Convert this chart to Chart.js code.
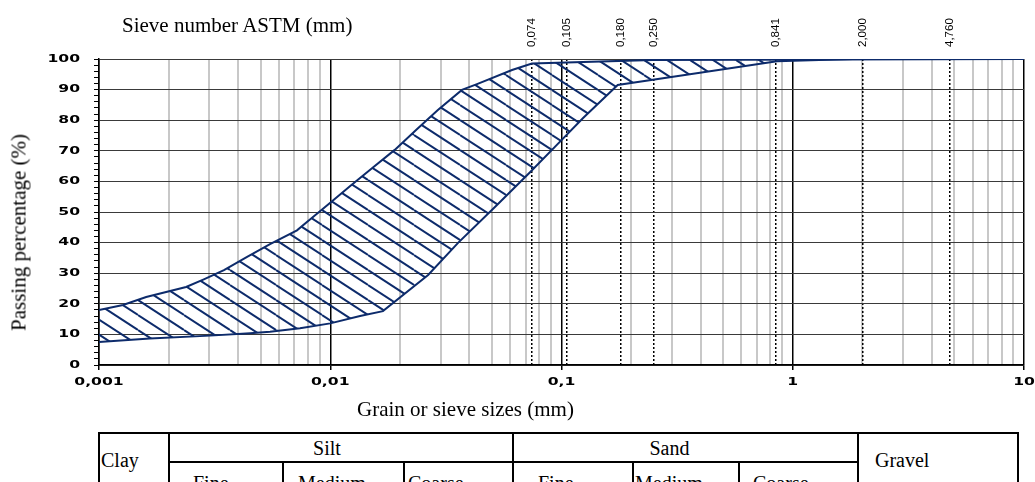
<!DOCTYPE html>
<html>
<head>
<meta charset="utf-8">
<title>Grain size distribution</title>
<script src="https://cdn.jsdelivr.net/npm/chart.js@4.4.1/dist/chart.umd.min.js"></script>
<style>
  html, body { margin: 0; padding: 0; background: #fff; }
  body { width: 1035px; height: 482px; overflow: hidden; position: relative;
         font-family: "Liberation Serif", "Times New Roman", serif; color: #000; }
  #chart { position: absolute; left: 0; top: 0; }
  .label { position: absolute; font-size: 21px; line-height: 21px; white-space: nowrap; }
  #top-title { left: 122px; top: 15px; }
  #x-title { left: 357px; top: 399px; }
  #y-title { left: -131px; top: 222px; width: 300px; text-align: center; transform: rotate(-90deg); }
  table.classes { position: absolute; left: 98px; top: 432px; border-collapse: collapse;
                  table-layout: fixed; font-size: 20px; line-height: 21px; }
  table.classes td { border: 2px solid #000; padding: 0; vertical-align: top; white-space: nowrap; }
</style>
</head>
<body>
<canvas id="chart" width="1035" height="430"></canvas>
<div class="label" id="top-title">Sieve number ASTM (mm)</div>
<div class="label" id="x-title">Grain or sieve sizes (mm)</div>
<div class="label" id="y-title">Passing percentage (%)</div>

<table class="classes">
  <colgroup>
    <col style="width:70px"><col style="width:114px"><col style="width:121px"><col style="width:109px">
    <col style="width:120px"><col style="width:106px"><col style="width:119px"><col style="width:160px">
  </colgroup>
  <tr style="height:29px">
    <td rowspan="2" style="padding:16px 0 0 1px">Clay</td>
    <td colspan="3" style="text-align:center;padding:4px 28px 0 0">Silt</td>
    <td colspan="3" style="text-align:center;padding:4px 32px 0 0">Sand</td>
    <td rowspan="2" style="padding:16px 0 0 16px">Gravel</td>
  </tr>
  <tr style="height:40px">
    <td style="padding:10px 0 0 23px">Fine</td>
    <td style="padding:10px 0 0 14px">Medium</td>
    <td style="padding:10px 0 0 3px">Coarse</td>
    <td style="padding:10px 0 0 24px">Fine</td>
    <td style="padding:10px 0 0 1px">Medium</td>
    <td style="padding:10px 0 0 13px">Coarse</td>
  </tr>
</table>

<script>
// upper and lower limits of the grading envelope (size in mm, % passing)
const SIZES_UPPER = [0.001, 0.00127, 0.0016, 0.00238, 0.00284, 0.00347, 0.00437, 0.00549, 0.00718, 0.008, 0.01,
                     0.0122, 0.0152, 0.019, 0.0235, 0.0292, 0.0371, 0.0431, 0.0611, 0.0745, 0.249, 10];
const PASS_UPPER  = [18, 19.6, 22.2, 25.5, 28, 31, 35.3, 39.5, 44, 47, 53,
                     58.5, 64.4, 70.3, 76.8, 83.3, 89.9, 91.8, 96.4, 98.5, 99.7, 100];

const SIZES_LOWER = [0.001, 0.00166, 0.00302, 0.0045, 0.00549, 0.0074, 0.01, 0.01345, 0.0169,
                     0.0265, 0.0357, 0.0526, 0.0731, 0.1, 0.124, 0.175, 0.359, 0.855, 1.82, 10];
const PASS_LOWER  = [7.5, 8.7, 9.6, 10.4, 10.9, 12, 13.6, 16, 17.6,
                     29.4, 39.9, 52.3, 63, 73.5, 80.7, 91.5, 95, 99.3, 100, 100];

// ASTM sieve openings marked along the top
const SIEVE_SIZES  = [0.074, 0.105, 0.180, 0.250, 0.841, 2.000, 4.760];
const SIEVE_LABELS = ['0,074', '0,105', '0,180', '0,250', '0,841', '2,000', '4,760'];

const X_TICKS       = [0.001, 0.01, 0.1, 1, 10];
const X_TICK_LABELS = ['0,001', '0,01', '0,1', '1', '10'];
const Y_TICKS       = [0, 10, 20, 30, 40, 50, 60, 70, 80, 90, 100];

const NAVY = '#0d2b6b';
const STRETCH = 1.42;   // tick labels in the original are drawn wide

function isDecade(v) {
    const l = Math.log10(v);
    return Math.abs(l - Math.round(l)) < 1e-9;
}

function makeHatch() {
    const tile = document.createElement('canvas');
    tile.width = 46;
    tile.height = 30;
    const c = tile.getContext('2d');
    c.strokeStyle = NAVY;
    c.lineWidth = 2;
    for (let off = -30; off <= 30; off += 15) {
        c.beginPath();
        c.moveTo(0, off);
        c.lineTo(46, off + 30);
        c.stroke();
    }
    return c.createPattern(tile, 'repeat');
}

// tick labels drawn by hand so they can be stretched like the source
const tickLabels = {
    id: 'tickLabels',
    afterDraw(chart) {
        const { ctx, chartArea, scales: { x, y } } = chart;
        ctx.save();
        ctx.fillStyle = '#000';
        ctx.font = 'bold 11px "DejaVu Sans"';
        ctx.textAlign = 'right';
        ctx.textBaseline = 'middle';
        Y_TICKS.forEach(v => {
            ctx.save();
            ctx.translate(chartArea.left - 19, y.getPixelForValue(v));
            ctx.scale(STRETCH, 1);
            ctx.fillText(String(v), 0, 0);
            ctx.restore();
        });
        ctx.textAlign = 'center';
        ctx.textBaseline = 'alphabetic';
        X_TICKS.forEach((v, i) => {
            ctx.save();
            ctx.translate(x.getPixelForValue(v), chartArea.bottom + 20);
            ctx.scale(STRETCH, 1);
            ctx.fillText(X_TICK_LABELS[i], 0, 0);
            ctx.restore();
        });
        ctx.restore();
    }
};

const toPoints = (xs, ys) => xs.map((v, i) => ({ x: v, y: ys[i] }));

new Chart(document.getElementById('chart'), {
    type: 'line',
    data: {
        datasets: [
            {
                label: 'Upper limit',
                data: toPoints(SIZES_UPPER, PASS_UPPER),
                borderColor: NAVY,
                borderWidth: 2,
                pointRadius: 0,
                tension: 0,
                fill: '+1',
                backgroundColor: makeHatch()
            },
            {
                label: 'Lower limit',
                data: toPoints(SIZES_LOWER, PASS_LOWER),
                borderColor: NAVY,
                borderWidth: 2,
                pointRadius: 0,
                tension: 0,
                fill: false
            }
        ]
    },
    options: {
        responsive: false,
        animation: false,
        devicePixelRatio: 1,
        layout: { padding: { left: 0, right: 11, top: 0, bottom: 0 } },
        plugins: { legend: { display: false }, tooltip: { enabled: false } },
        scales: {
            x: {
                type: 'logarithmic',
                position: 'bottom',
                min: 0.001,
                max: 10,
                afterBuildTicks: s => {
                    const t = [];
                    for (let e = -3; e <= 0; e++) {
                        for (let m = 1; m <= 9; m++) t.push({ value: m * Math.pow(10, e) });
                    }
                    t.push({ value: 10 });
                    s.ticks = t;
                },
                afterFit: s => { s.height = 65; },
                ticks: { display: false, autoSkip: false },
                grid: {
                    color: c => (c.tick && isDecade(c.tick.value)) ? '#000' : '#c8c8c8',
                    lineWidth: c => (c.tick && isDecade(c.tick.value)) ? 1.5 : 2,
                    tickColor: c => (c.tick && isDecade(c.tick.value)) ? '#000' : 'rgba(0,0,0,0)',
                    tickLength: 5
                },
                border: { display: true, color: '#000', width: 1.5 }
            },
            x2: {
                type: 'logarithmic',
                position: 'top',
                min: 0.001,
                max: 10,
                afterBuildTicks: s => { s.ticks = SIEVE_SIZES.map(v => ({ value: v })); },
                afterFit: s => { s.height = 59; },
                ticks: {
                    autoSkip: false,
                    minRotation: 90,
                    maxRotation: 90,
                    padding: 12,
                    labelOffset: 14,
                    color: '#000',
                    font: { family: '"Liberation Sans", Arial, sans-serif', size: 11.5 },
                    callback: (v, i) => SIEVE_LABELS[i]
                },
                grid: { color: '#000', lineWidth: 1.5, drawTicks: false },
                border: { display: false, dash: [2, 2] }
            },
            y: {
                min: 0,
                max: 100,
                afterBuildTicks: s => {
                    const t = [];
                    for (let v = 0; v <= 100; v += 2) t.push({ value: v });
                    s.ticks = t;
                },
                afterFit: s => { s.width = 99; },
                ticks: { display: false },
                grid: {
                    color: c => (c.tick && c.tick.value % 10 === 0) ? '#3a3a3a' : 'rgba(0,0,0,0)',
                    lineWidth: 1,
                    tickColor: '#000',
                    tickLength: 5
                },
                border: { display: true, color: '#000', width: 1.5 }
            }
        }
    },
    plugins: [tickLabels]
});
</script>
</body>
</html>
